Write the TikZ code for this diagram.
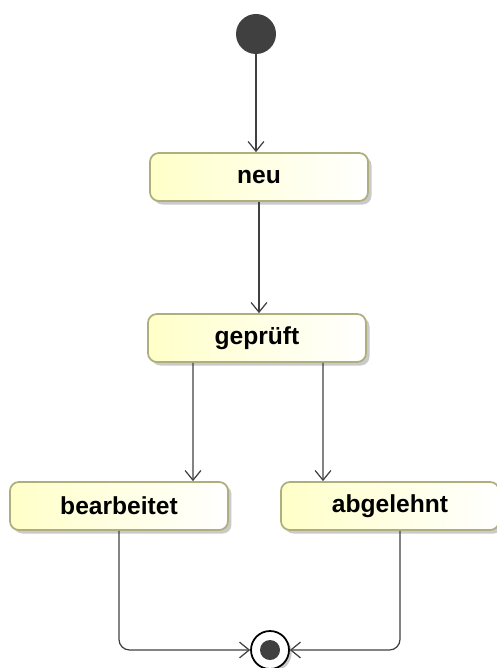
\documentclass[tikz,border=0pt]{standalone}
\usepackage{fontspec}
\setmainfont{Liberation Sans}
\usepackage{tikz}
\usetikzlibrary{arrows.meta,shadows}

\definecolor{boxfill}{RGB}{255,255,200}
\definecolor{boxline}{RGB}{175,175,125}
\definecolor{dot}{RGB}{64,64,64}

\tikzset{
  zustand/.style={draw=boxline,line width=1pt,rounded corners=5pt,
    left color=boxfill,right color=white,
    minimum width=4.36cm,minimum height=0.96cm,inner sep=0pt,
    font=\fontsize{14}{16}\selectfont\bfseries,
    drop shadow={shadow xshift=2pt,shadow yshift=-2pt,fill=black!35,opacity=0.6}},
  pfeil/.style={draw=black!75,line width=0.7pt,-{Straight Barb[length=5.5pt,width=9pt]}}
}

\begin{document}
\begin{tikzpicture}[x=0.02cm,y=-0.02cm]
\useasboundingbox (0,0) rectangle (496,668);
\node[circle,fill=dot,minimum size=0.8cm,inner sep=0pt](start) at (256,34){};
\node[zustand](neu) at (259,177){neu};
\node[zustand](gep) at (257,338){geprüft};
\node[zustand](bea) at (119,506){bearbeitet};
\node[zustand](abg) at (390,506){abgelehnt};
\node[circle,draw=black,line width=1pt,fill=white,minimum size=0.76cm,inner sep=0pt,
  drop shadow={shadow xshift=1.5pt,shadow yshift=-1.5pt,fill=black!35,opacity=0.6}](ende) at (270,650){};
\fill[dot](ende) circle (0.2cm);
\draw[pfeil](start)--(start |- neu.north);
\draw[pfeil](neu.south)--(neu.south |- gep.north);
\draw[pfeil]([xshift=-1.28cm]gep.south)--([xshift=1.48cm]bea.north);
\draw[pfeil]([xshift=1.32cm]gep.south)--([xshift=-1.34cm]abg.north);
\draw[pfeil,rounded corners=6pt](bea.south)|-(ende.west);
\draw[pfeil,rounded corners=6pt]([xshift=0.2cm]abg.south)|-(ende.east);
\end{tikzpicture}
\end{document}
